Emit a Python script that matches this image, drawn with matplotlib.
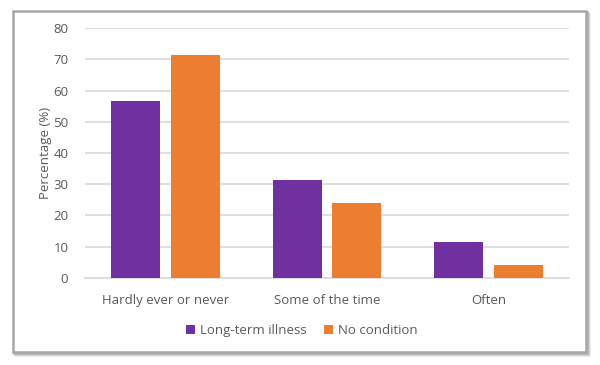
import matplotlib
matplotlib.use("Agg")
import matplotlib.pyplot as plt
import matplotlib.patches as mpatches
import numpy as np

plt.rcParams['font.family'] = ['Open Sans', 'DejaVu Sans']

categories = ["Hardly ever or never", "Some of the time", "Often"]
long_term = [56.7, 31.2, 11.5]
no_condition = [71.4, 24.0, 4.0]
series_names = ["Long-term illness", "No condition"]
colors = ["#7030A0", "#ED7D31"]

fig = plt.figure(figsize=(6, 3.65), dpi=100)

# outer frame with soft shadow
for off, a in [(0.006, 0.15), (0.004, 0.25), (0.002, 0.35)]:
    fig.patches.append(mpatches.Rectangle((0.021 + off, 0.036 - off * 1.6), 0.955, 0.935,
                                          transform=fig.transFigure, facecolor='none',
                                          edgecolor='#808080', alpha=a, linewidth=2, zorder=-3))
fig.patches.append(mpatches.Rectangle((0.021, 0.036), 0.955, 0.935, transform=fig.transFigure,
                                      facecolor='white', edgecolor='#A6A6A6', linewidth=1.8,
                                      zorder=-2))

ax = fig.add_axes([0.1417, 0.2392, 0.8066, 0.6833])
ax.set_facecolor('none')

x = np.arange(len(categories))
w = 0.302
gap = 0.034
ax.bar(x - w / 2 - gap, long_term, w, color=colors[0], label=series_names[0], zorder=3)
ax.bar(x + w / 2 + gap, no_condition, w, color=colors[1], label=series_names[1], zorder=3)

ax.set_xlim(-0.5, 2.5)
ax.set_ylim(0, 80)
ax.set_yticks(range(0, 81, 10))
ax.yaxis.grid(True, color='#D9D9D9', linewidth=1.2, zorder=0)
ax.set_axisbelow(True)
for s in ['top', 'right', 'left']:
    ax.spines[s].set_visible(False)
ax.spines['bottom'].set_color('#D9D9D9')
ax.spines['bottom'].set_linewidth(1.2)

ax.set_xticks(x)
ax.set_xticklabels(categories)
ax.tick_params(axis='both', length=0, labelsize=9.5, labelcolor='#595959')
ax.tick_params(axis='y', pad=12)
ax.tick_params(axis='x', pad=12)
ax.set_ylabel("Percentage (%)", fontsize=9.5, color='#595959', labelpad=1)

ax.legend(loc='center', bbox_to_anchor=(0.503, 0.094), bbox_transform=fig.transFigure,
          ncol=2, frameon=False, fontsize=9.5, labelcolor='#595959',
          handlelength=0.7, handleheight=0.7, handletextpad=0.4, columnspacing=1.3)

fig.savefig("out.png", dpi=100)
